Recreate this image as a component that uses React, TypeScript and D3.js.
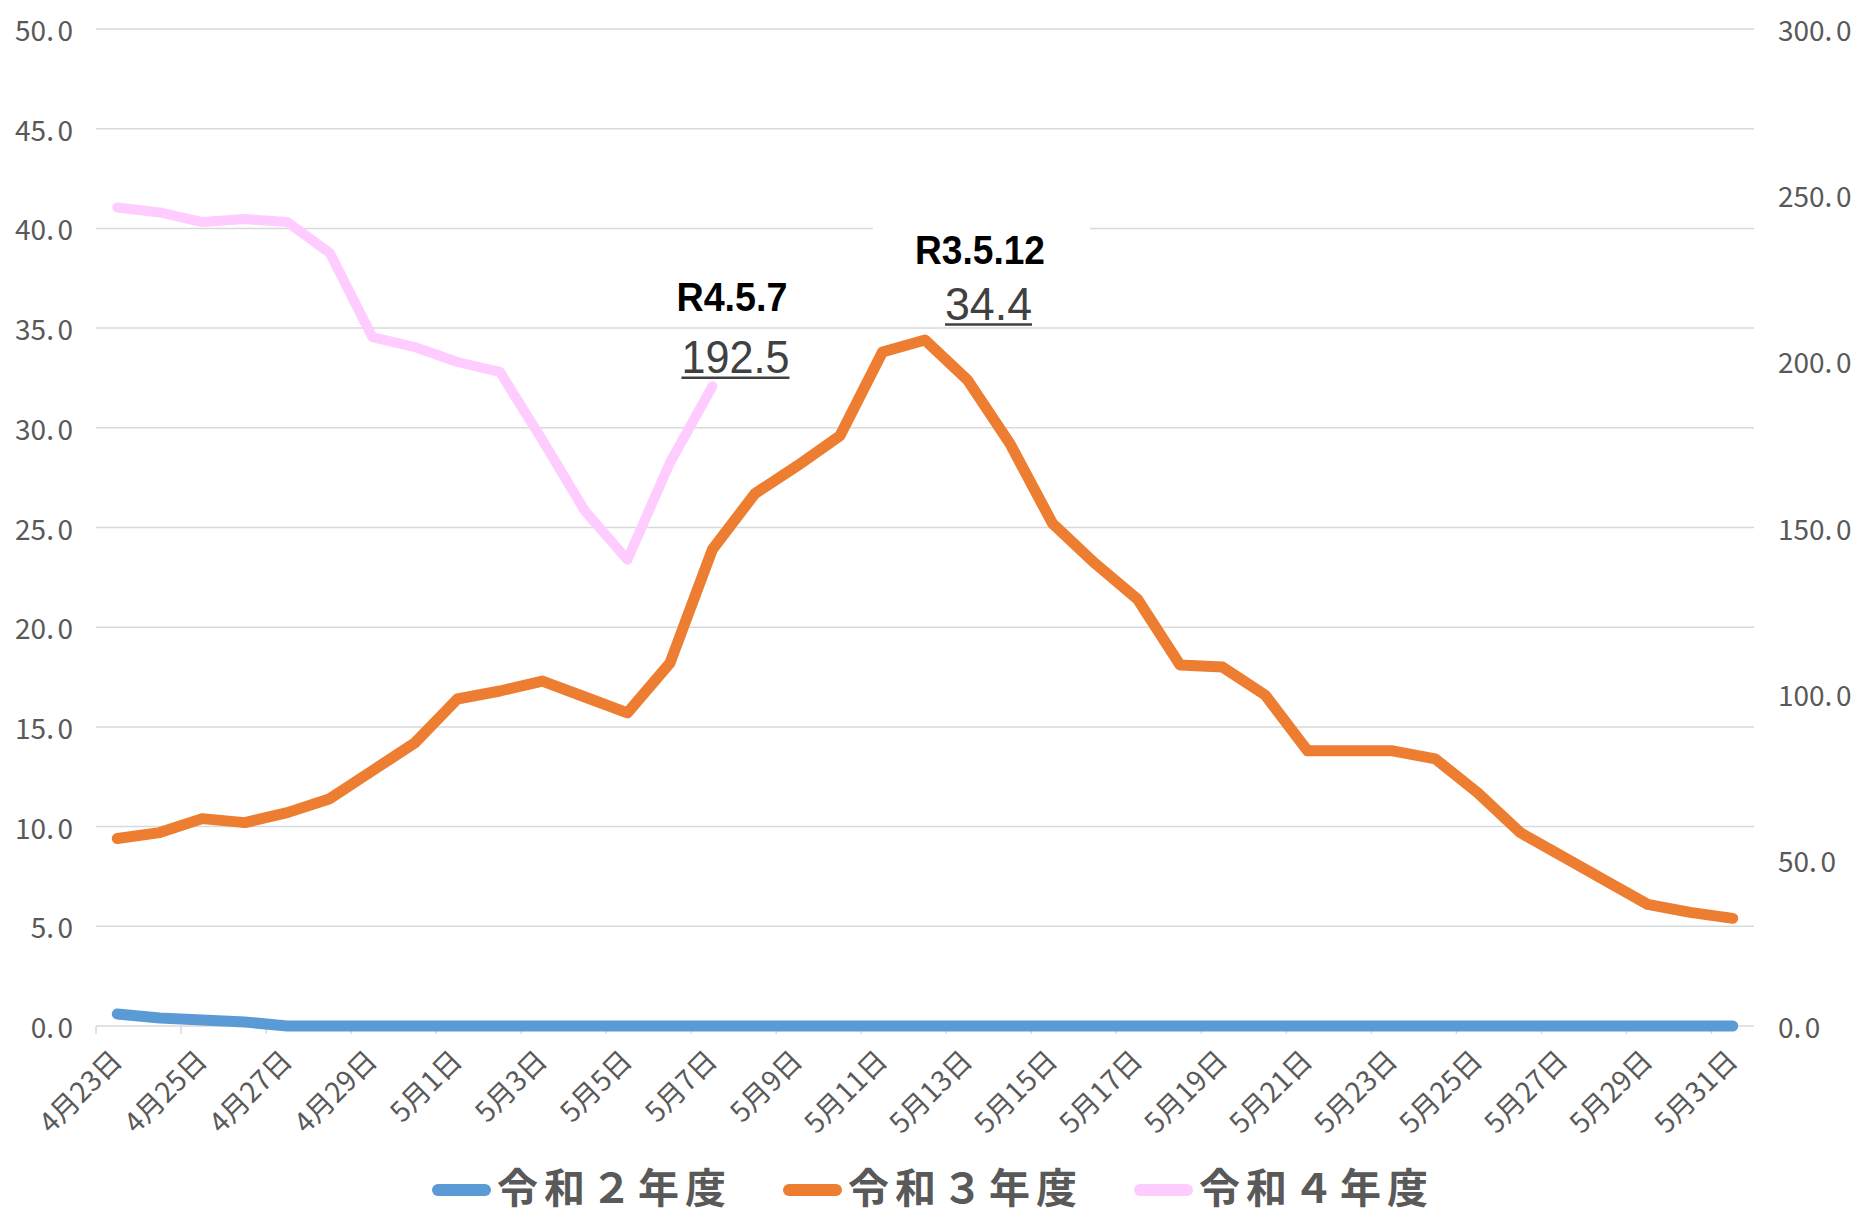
import React, { useRef, useEffect } from "react";
import * as d3 from "d3";

// categories: 4/23 .. 5/31
const dates = [
  "4月23日", "4月24日", "4月25日", "4月26日", "4月27日", "4月28日", "4月29日", "4月30日",
  "5月1日", "5月2日", "5月3日", "5月4日", "5月5日", "5月6日", "5月7日", "5月8日",
  "5月9日", "5月10日", "5月11日", "5月12日", "5月13日", "5月14日", "5月15日", "5月16日",
  "5月17日", "5月18日", "5月19日", "5月20日", "5月21日", "5月22日", "5月23日", "5月24日",
  "5月25日", "5月26日", "5月27日", "5月28日", "5月29日", "5月30日", "5月31日",
];

// 令和2年度 (left axis)
const r2 = [
  0.6, 0.4, 0.3, 0.2, 0, 0, 0, 0, 0, 0, 0, 0, 0, 0, 0, 0, 0, 0, 0, 0,
  0, 0, 0, 0, 0, 0, 0, 0, 0, 0, 0, 0, 0, 0, 0, 0, 0, 0, 0,
];

// 令和3年度 (left axis)
const r3 = [
  9.4, 9.7, 10.4, 10.2, 10.7, 11.4, 12.8, 14.2, 16.4, 16.8, 17.3, 16.5, 15.7, 18.2, 23.9, 26.7,
  28.1, 29.6, 33.8, 34.4, 32.4, 29.2, 25.2, 23.2, 21.4, 18.1, 18.0, 16.6, 13.8, 13.8, 13.8, 13.4,
  11.7, 9.7, 8.5, 7.3, 6.1, 5.7, 5.4,
];

// 令和4年度 (right axis), up to 5/7
const r4 = [
  246.3, 244.8, 241.9, 242.8, 241.9, 232.6, 207.3, 204.3, 199.8, 196.8, 176.3, 155.0, 140.3, 169.5, 192.5,
];

const leftTicks = [0, 5, 10, 15, 20, 25, 30, 35, 40, 45, 50];
const rightTicks = [0, 50, 100, 150, 200, 250, 300];

const legendNames = ["令和２年度", "令和３年度", "令和４年度"];
const colors = ["#5B9BD5", "#ED7D31", "#FFCCFF"];

const FONT = "'Noto Sans CJK JP', 'Noto Sans', sans-serif";
const NUMFONT = "'Liberation Sans', Arial, sans-serif";

export default function App() {
  const ref = useRef<SVGSVGElement | null>(null);
  const width = 1856, height = 1215;
  const margin = { top: 29, right: 102, bottom: 189, left: 96 };

  useEffect(() => {
    const svg = d3.select(ref.current);
    svg.selectAll("*").remove();

    const x = d3.scaleBand().domain(dates).range([margin.left, width - margin.right]).padding(0);
    const cx = (d: string) => (x(d) as number) + x.bandwidth() / 2;
    const yL = d3.scaleLinear().domain([0, 50]).range([height - margin.bottom, margin.top]);
    const yR = d3.scaleLinear().domain([0, 300]).range([height - margin.bottom, margin.top]);
    const fmt = d3.format(".1f");

    svg.append("rect").attr("width", width).attr("height", height).attr("fill", "#fff");

    // gridlines
    svg.append("g")
      .selectAll("line")
      .data(leftTicks.slice(1))
      .join("line")
      .attr("x1", margin.left).attr("x2", width - margin.right)
      .attr("y1", d => yL(d)).attr("y2", d => yL(d))
      .attr("stroke", "#D9D9D9").attr("stroke-width", 1.5);

    // x axis line + ticks
    const base = yL(0);
    svg.append("line")
      .attr("x1", margin.left).attr("x2", width - margin.right)
      .attr("y1", base).attr("y2", base)
      .attr("stroke", "#D9D9D9").attr("stroke-width", 1.5);
    svg.append("g")
      .selectAll("line")
      .data(dates.filter((_, i) => i % 2 === 0))
      .join("line")
      .attr("x1", d => x(d) as number).attr("x2", d => x(d) as number)
      .attr("y1", base).attr("y2", base + 8)
      .attr("stroke", "#D9D9D9").attr("stroke-width", 1.5);

    // tick label helper: "50." + gap + "0"
    function tickText(g: any, v: number) {
      const s = fmt(v);
      const p = s.indexOf(".");
      g.append("tspan").text(s.slice(0, p + 1));
      g.append("tspan").attr("dx", 3.5).text(s.slice(p + 1));
    }

    // left labels
    leftTicks.forEach(v => {
      const t = svg.append("text")
        .attr("x", 73).attr("y", yL(v))
        .attr("text-anchor", "end").attr("dominant-baseline", "central")
        .attr("font-family", FONT).attr("font-size", 28).attr("fill", "#595959");
      tickText(t, v);
    });
    // right labels
    rightTicks.forEach(v => {
      const t = svg.append("text")
        .attr("x", 1778).attr("y", yR(v))
        .attr("text-anchor", "start").attr("dominant-baseline", "central")
        .attr("font-family", FONT).attr("font-size", 28).attr("fill", "#595959");
      tickText(t, v);
    });

    // x labels
    svg.append("g")
      .selectAll("text")
      .data(dates.filter((_, i) => i % 2 === 0))
      .join("text")
      .attr("transform", d => `translate(${cx(d) - 2},${base + 28}) rotate(-45)`)
      .attr("text-anchor", "end").attr("dominant-baseline", "central")
      .attr("font-family", FONT).attr("font-size", 28).attr("fill", "#595959")
      .text(d => d);

    // lines
    const lineL = d3.line<number>().x((_, i) => cx(dates[i])).y(d => yL(d));
    const lineR = d3.line<number>().x((_, i) => cx(dates[i])).y(d => yR(d));
    const series = [
      { d: lineL(r2), c: colors[0], w: 11 },
      { d: lineL(r3), c: colors[1], w: 11 },
      { d: lineR(r4), c: colors[2], w: 10 },
    ];
    svg.append("g")
      .selectAll("path")
      .data(series)
      .join("path")
      .attr("d", s => s.d)
      .attr("fill", "none")
      .attr("stroke", s => s.c)
      .attr("stroke-width", s => s.w)
      .attr("stroke-linecap", "round")
      .attr("stroke-linejoin", "round");

    // annotation R3 peak
    const peakI = r3.indexOf(d3.max(r3) as number);
    const px = cx(dates[peakI]), py = yL(r3[peakI]);
    svg.append("rect")
      .attr("x", px - 52).attr("y", py - 135)
      .attr("width", 217).attr("height", 120)
      .attr("fill", "#fff");
    svg.append("text")
      .attr("x", px - 10).attr("y", py - 76)
      .attr("font-family", NUMFONT).attr("font-size", 40).attr("font-weight", 700)
      .attr("fill", "#000")
      .attr("textLength", 130).attr("lengthAdjust", "spacingAndGlyphs")
      .text("R3.5.12");
    svg.append("text")
      .attr("x", px + 20).attr("y", py - 20)
      .attr("font-family", NUMFONT).attr("font-size", 47)
      .attr("fill", "#404040")
      .attr("textLength", 87).attr("lengthAdjust", "spacingAndGlyphs")
      .text(fmt(r3[peakI]));
    svg.append("line")
      .attr("x1", px + 20).attr("x2", px + 107)
      .attr("y1", py - 15.5).attr("y2", py - 15.5)
      .attr("stroke", "#404040").attr("stroke-width", 2.5);

    // annotation R4 last
    const lastI = r4.length - 1;
    const qx = cx(dates[lastI]), qy = yR(r4[lastI]);
    svg.append("text")
      .attr("x", qx - 36).attr("y", qy - 75)
      .attr("font-family", NUMFONT).attr("font-size", 40).attr("font-weight", 700)
      .attr("fill", "#000")
      .attr("textLength", 111).attr("lengthAdjust", "spacingAndGlyphs")
      .text("R4.5.7");
    svg.append("text")
      .attr("x", qx - 31).attr("y", qy - 13)
      .attr("font-family", NUMFONT).attr("font-size", 47)
      .attr("fill", "#404040")
      .attr("textLength", 108).attr("lengthAdjust", "spacingAndGlyphs")
      .text(fmt(r4[lastI]));
    svg.append("line")
      .attr("x1", qx - 31).attr("x2", qx + 77)
      .attr("y1", qy - 8.5).attr("y2", qy - 8.5)
      .attr("stroke", "#404040").attr("stroke-width", 2.5);

    // legend
    const lg = svg.append("g").attr("transform", "translate(432,1185)");
    legendNames.forEach((name, i) => {
      const g = lg.append("g").attr("transform", `translate(${i * 351},0)`);
      g.append("line")
        .attr("x1", 6).attr("x2", 53).attr("y1", 5).attr("y2", 5)
        .attr("stroke", colors[i]).attr("stroke-width", 12).attr("stroke-linecap", "round");
      g.append("text")
        .attr("x", 65).attr("y", 0)
        .attr("dominant-baseline", "central")
        .attr("font-family", FONT).attr("font-size", 41).attr("font-weight", 700)
        .attr("letter-spacing", 6)
        .attr("fill", "#595959")
        .text(name);
    });
  }, []);

  return (
    <div style={{ position: "absolute", left: 0, top: 0 }}>
      <svg ref={ref} width={width} height={height} />
    </div>
  );
}
